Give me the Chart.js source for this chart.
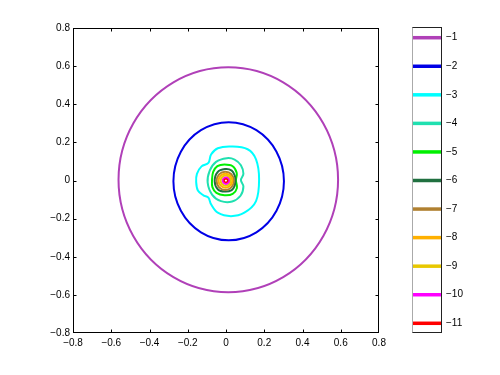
<!DOCTYPE html>
<html>
<head>
<meta charset="utf-8">
<script src="https://cdn.jsdelivr.net/npm/chart.js@4.4.1/dist/chart.umd.min.js"></script>
<style>
  html, body { margin: 0; padding: 0; background: #fff; }
  #wrap { position: relative; width: 500px; height: 375px; }
  #contour { position: absolute; left: 0; top: 0; }
  #colorbar { position: absolute; left: 400px; top: 0; }
</style>
</head>
<body>
<div id="wrap">
  <canvas id="contour" width="400" height="375"></canvas>
  <canvas id="colorbar" width="100" height="375"></canvas>
</div>
<script>
// contour levels and the colour used for each
const levels = [-1, -2, -3, -4, -5, -6, -7, -8, -9, -10, -11];
const levelColors = ['#b040b8', '#0000e6', '#00ffff', '#20e0b0', '#00f000', '#207040',
                     '#b08030', '#ffb000', '#e8c800', '#ff00ff', '#ff0000'];

// axis ticks
const axisTicks = [-0.8, -0.6, -0.4, -0.2, 0, 0.2, 0.4, 0.6, 0.8];

// contour lines, [x, y] going round
const lineM1 = [[0.586, 0.004], [0.509, -0.291], [0.299, -0.507], [0.012, -0.586], [-0.275, -0.507], [-0.485, -0.291],
                [-0.562, 0.004], [-0.485, 0.299], [-0.275, 0.515], [0.012, 0.594], [0.299, 0.515], [0.509, 0.299]];
const lineM2 = [[0.303, -0.004], [0.264, -0.159], [0.159, -0.272], [0.014, -0.314], [-0.131, -0.272], [-0.236, -0.159],
                [-0.275, -0.004], [-0.236, 0.151], [-0.131, 0.264], [0.014, 0.306], [0.159, 0.264], [0.264, 0.151]];
const lineM3 = [[0.026, 0.178], [0.113, 0.164], [0.157, 0.111], [0.173, 0.006], [0.157, -0.108], [0.096, -0.169],
                [0.026, -0.187], [-0.043, -0.169], [-0.078, -0.125], [-0.092, -0.090], [-0.118, -0.078], [-0.147, -0.052],
                [-0.156, -0.008], [-0.152, 0.035], [-0.128, 0.074], [-0.092, 0.092], [-0.078, 0.136], [-0.043, 0.169]];
const lineM4 = [[0.004, 0.117], [0.045, 0.110], [0.078, 0.080], [0.091, 0.035], [0.078, 0.002], [0.091, -0.032],
                [0.076, -0.080], [0.032, -0.110], [-0.026, -0.108], [-0.072, -0.075], [-0.096, -0.010], [-0.085, 0.052],
                [-0.052, 0.098]];
const lineM5 = [[-0.008, 0.084], [0.035, 0.075], [0.056, 0.040], [0.052, 0.000], [0.057, -0.040], [0.035, -0.070],
                [-0.008, -0.077], [-0.050, -0.065], [-0.071, -0.035], [-0.073, 0.005], [-0.067, 0.045], [-0.045, 0.075]];
const lineM6 = [[-0.005, 0.060], [0.030, 0.052], [0.046, 0.025], [0.049, 0.000], [0.045, -0.028], [0.030, -0.050],
                [-0.005, -0.058], [-0.042, -0.047], [-0.059, -0.005], [-0.045, 0.043]];
const lineM7 = [[-0.004, 0.046], [0.028, 0.033], [0.041, -0.002], [0.028, -0.036], [-0.004, -0.050], [-0.036, -0.036],
                [-0.049, -0.002], [-0.036, 0.032]];
const lineM8 = [[-0.003, 0.036], [0.022, 0.025], [0.033, -0.001], [0.022, -0.027], [-0.003, -0.038], [-0.028, -0.027],
                [-0.039, -0.001], [-0.028, 0.025]];
const lineM9 = [[-0.002, 0.026], [0.016, 0.018], [0.024, -0.001], [0.016, -0.020], [-0.002, -0.028], [-0.020, -0.020],
                [-0.028, -0.001], [-0.020, 0.018]];
const lineM10 = [[0.000, 0.016], [0.011, 0.011], [0.016, -0.001], [0.011, -0.012], [0.000, -0.018], [-0.012, -0.012],
                 [-0.017, -0.001], [-0.012, 0.011]];
const lineM11 = [[0.000, 0.009], [0.006, 0.006], [0.009, 0.000], [0.006, -0.007], [0.000, -0.010], [-0.007, -0.007],
                 [-0.010, 0.000], [-0.007, 0.006]];

const contours = [lineM1, lineM2, lineM3, lineM4, lineM5, lineM6, lineM7, lineM8, lineM9, lineM10, lineM11];

const FONT = { family: '"Liberation Sans", Arial, sans-serif', size: 10 };
const minus = v => (v < 0 ? '\u2212' : '') + Math.abs(v);
const fmtTick = v => Math.abs(v) < 1e-9 ? '0' : (v < 0 ? '\u2212' : '') + Math.abs(v).toFixed(1);

// closed curve: wrap one point round each end so the spline is smooth at the seam,
// the two wrap segments are then hidden
function closed(pts) {
    const n = pts.length;
    const ring = [pts[n - 1], ...pts, pts[0], pts[1]];
    return ring.map(p => ({ x: p[0], y: p[1] }));
}

const boxTicks = {
    id: 'boxTicks',
    afterDraw(chart) {
        const { ctx, chartArea: a, scales } = chart;
        const L = Math.round(a.left) + 0.5, R = Math.round(a.right) - 0.5;
        const T = Math.round(a.top) + 0.5, B = Math.round(a.bottom) - 0.5;
        const clamp = (v, lo, hi) => Math.min(hi, Math.max(lo, v));
        ctx.save();
        ctx.strokeStyle = '#000';
        ctx.lineWidth = 1;
        ctx.strokeRect(L, T, R - L, B - T);
        ctx.beginPath();
        scales.x.ticks.forEach(t => {
            const px = clamp(Math.round(scales.x.getPixelForValue(t.value)) + 0.5, L, R);
            ctx.moveTo(px, B); ctx.lineTo(px, B - 3);
            ctx.moveTo(px, T); ctx.lineTo(px, T + 3);
        });
        scales.y.ticks.forEach(t => {
            const py = clamp(Math.round(scales.y.getPixelForValue(t.value)) + 0.5, T, B);
            ctx.moveTo(L, py); ctx.lineTo(L + 3, py);
            ctx.moveTo(R, py); ctx.lineTo(R - 3, py);
        });
        ctx.stroke();
        ctx.restore();
    }
};

new Chart(document.getElementById('contour'), {
    type: 'scatter',
    data: {
        datasets: contours.map((pts, i) => {
            const last = pts.length + 2;
            return {
                label: String(levels[i]),
                data: closed(pts),
                showLine: true,
                borderColor: levelColors[i],
                borderWidth: i === 10 ? 1.5 : 2,
                tension: 0.36,
                pointRadius: 0,
                order: levels.length - i,
                segment: {
                    borderColor: c => (c.p0DataIndex === 0 || c.p1DataIndex === last) ? 'rgba(0,0,0,0)' : undefined
                }
            };
        })
    },
    options: {
        responsive: false,
        animation: false,
        layout: { padding: { left: 0, right: 21, top: 28, bottom: 0 } },
        plugins: { legend: { display: false }, tooltip: { enabled: false } },
        scales: {
            x: {
                type: 'linear', min: -0.8, max: 0.8,
                grid: { display: false, drawTicks: false },
                border: { display: false },
                afterBuildTicks: s => { s.ticks = axisTicks.map(v => ({ value: v })); },
                afterFit: s => { s.height = 42; },
                ticks: { font: FONT, color: '#000', padding: 4, maxRotation: 0, autoSkip: false, callback: fmtTick }
            },
            y: {
                type: 'linear', min: -0.8, max: 0.8,
                grid: { display: false, drawTicks: false },
                border: { display: false },
                afterBuildTicks: s => { s.ticks = axisTicks.map(v => ({ value: v })); },
                afterFit: s => { s.width = 73; },
                ticks: { font: FONT, color: '#000', padding: 3, autoSkip: false, callback: fmtTick }
            }
        }
    },
    plugins: [boxTicks]
});

const barBox = {
    id: 'barBox',
    afterDraw(chart) {
        const { ctx, chartArea: a } = chart;
        const L = Math.round(a.left) + 0.5, R = Math.round(a.right) - 0.5;
        const T = Math.round(a.top) + 0.5, B = Math.round(a.bottom) - 0.5;
        ctx.save();
        ctx.lineWidth = 1;
        ctx.strokeStyle = '#222';
        ctx.strokeRect(L, T, R - L, B - T);
        ctx.strokeStyle = '#aaa';
        ctx.beginPath(); ctx.moveTo(L, T); ctx.lineTo(L, B); ctx.stroke();
        ctx.restore();
    }
};

new Chart(document.getElementById('colorbar'), {
    type: 'scatter',
    data: {
        datasets: levels.map((lv, i) => ({
            label: String(lv),
            data: [{ x: 0, y: lv }, { x: 1, y: lv }],
            showLine: true,
            borderColor: levelColors[i],
            borderWidth: 3.5,
            borderCapStyle: 'butt',
            pointRadius: 0
        }))
    },
    options: {
        responsive: false,
        animation: false,
        layout: { padding: { left: 12, right: 0, top: 27, bottom: 42 } },
        plugins: { legend: { display: false }, tooltip: { enabled: false } },
        scales: {
            x: { type: 'linear', min: 0, max: 1, display: false },
            y: {
                type: 'linear', position: 'right', min: -11.34, max: -0.625,
                grid: { display: false, drawTicks: false },
                border: { display: false },
                afterBuildTicks: s => { s.ticks = levels.map(v => ({ value: v })); },
                afterFit: s => { s.width = 58; },
                ticks: { font: FONT, color: '#000', padding: 4, autoSkip: false, callback: minus }
            }
        }
    },
    plugins: [barBox]
});
</script>
</body>
</html>
